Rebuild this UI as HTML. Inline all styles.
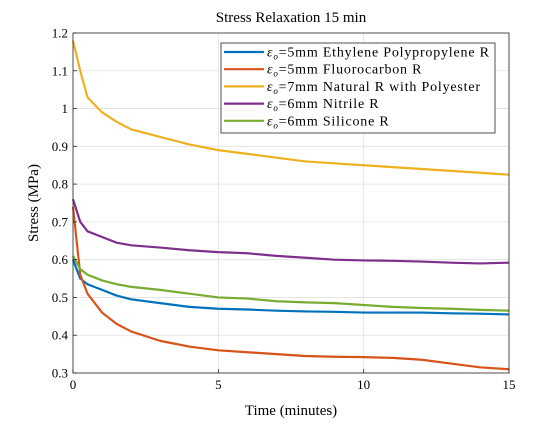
<!DOCTYPE html>
<html><head><meta charset="utf-8"><style>
body{margin:0;background:#fff;}
svg text{font-family:"Liberation Serif",serif;fill:#000;}
</style></head><body>
<svg id="chart" width="560" height="420" xmlns="http://www.w3.org/2000/svg">
<rect x="0" y="0" width="560" height="420" fill="#fff"/>
<g id="grid"></g>
<g id="series"></g>
<rect x="73" y="33" width="436" height="340" fill="none" stroke="#262626" stroke-width="0.8"/>
<g id="ticks"></g>
<text x="291" y="22" font-size="15" text-anchor="middle">Stress Relaxation 15 min</text>
<text x="291" y="415" font-size="15" text-anchor="middle">Time (minutes)</text>
<text transform="translate(38,203) rotate(-90)" font-size="15" text-anchor="middle">Stress (MPa)</text>
<g id="legend"></g>
</svg>
<script>
const times=[0,0.25,0.5,1,1.5,2,3,4,5,6,7,8,9,10,11,12,13,14,15];
const seriesNames=["Ethylene Polypropylene R","Fluorocarbon R","Natural R with Polyester","Nitrile R","Silicone R"];
const seriesStrain=["5mm","5mm","7mm","6mm","6mm"];
const seriesColors=["#0072BD","#D95319","#EDB120","#7E2F8E","#77AC30"];
const blueVals=[0.60,0.55,0.535,0.52,0.505,0.495,0.485,0.475,0.47,0.468,0.465,0.463,0.462,0.46,0.46,0.46,0.458,0.457,0.455];
const orangeVals=[0.74,0.56,0.51,0.46,0.43,0.41,0.385,0.37,0.36,0.355,0.35,0.345,0.343,0.342,0.34,0.335,0.325,0.315,0.31];
const yellowVals=[1.18,1.10,1.03,0.99,0.965,0.945,0.925,0.905,0.89,0.88,0.87,0.86,0.855,0.85,0.845,0.84,0.835,0.83,0.825];
const purpleVals=[0.76,0.70,0.675,0.66,0.645,0.638,0.632,0.625,0.62,0.617,0.61,0.605,0.60,0.598,0.597,0.595,0.592,0.59,0.592];
const greenVals=[0.61,0.575,0.56,0.545,0.535,0.528,0.52,0.51,0.5,0.497,0.49,0.487,0.485,0.48,0.475,0.472,0.47,0.467,0.465];
const xTicks=[0,5,10,15];
const yTicks=[0.3,0.4,0.5,0.6,0.7,0.8,0.9,1,1.1,1.2];
const NS="http://www.w3.org/2000/svg";
const X0=73,X1=509,Y0=373,Y1=33;
function xs(t){return X0+(t-0)/(15-0)*(X1-X0);}
function ys(v){return Y0-(v-0.3)/(1.2-0.3)*(Y0-Y1);}
function mk(tag,attrs,parent){const e=document.createElementNS(NS,tag);for(const k in attrs)e.setAttribute(k,attrs[k]);parent.appendChild(e);return e;}
const grid=document.getElementById('grid'),ticks=document.getElementById('ticks');
xTicks.forEach(t=>{
 const g=mk('line',{x1:xs(t),x2:xs(t),y1:Y0,y2:Y1,stroke:'#e0e0e0','stroke-width':0.8},grid);
 
 
 mk('line',{x1:xs(t),x2:xs(t),y1:Y0,y2:Y0-4,stroke:'#262626','stroke-width':0.8},ticks);
 const l=mk('text',{x:xs(t),y:Y0+16,'font-size':13,'text-anchor':'middle'},ticks);
 l.textContent=t;
 
 
});
yTicks.forEach(v=>{
 const g=mk('line',{x1:X0,x2:X1,y1:ys(v),y2:ys(v),stroke:'#e0e0e0','stroke-width':0.8},grid);
 
 
 mk('line',{x1:X0,x2:X0+4,y1:ys(v),y2:ys(v),stroke:'#262626','stroke-width':0.8},ticks);
 const l=mk('text',{x:X0-5,y:ys(v)+4.5,'font-size':13,'text-anchor':'end'},ticks);
 l.textContent=(v===1)?'1':v.toFixed(1);
 
 
});
const all=[blueVals,orangeVals,yellowVals,purpleVals,greenVals];
const sg=document.getElementById('series');
all.forEach((vals,i)=>{
 const p=mk('polyline',{points:vals.map((v,j)=>xs(times[j])+','+ys(v)).join(' '),fill:'none',stroke:seriesColors[i],'stroke-width':2.2,'stroke-linejoin':'round'},sg);
 
 
});
const lg=document.getElementById('legend');
mk('rect',{x:221,y:43,width:274,height:90,fill:'#fff',stroke:'#262626','stroke-width':0.8},lg);
seriesNames.forEach((n,i)=>{
 const y=52+i*17.2;
 mk('line',{x1:224,x2:264,y1:y,y2:y,stroke:seriesColors[i],'stroke-width':2.2},lg);
 const t=mk('text',{x:267,y:y+4.5,'font-size':14,'letter-spacing':0.8},lg);
 t.innerHTML='<tspan font-style="italic">ε</tspan><tspan font-style="italic" font-size="9" dy="3">o</tspan><tspan dy="-3">='+seriesStrain[i]+' '+n+'</tspan>';
 
 
});
</script>
</body></html>
